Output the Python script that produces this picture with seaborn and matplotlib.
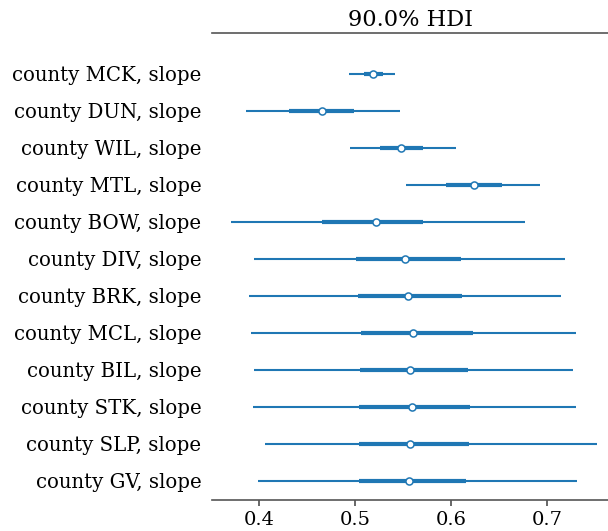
import numpy as np
import pandas as pd
import matplotlib
matplotlib.use("Agg")
import matplotlib.pyplot as plt
import seaborn as sns

# County slope posteriors: 90% HDI bounds, interquartile bounds and medians
counties = ["MCK", "DUN", "WIL", "MTL", "BOW", "DIV",
            "BRK", "MCL", "BIL", "STK", "SLP", "GV"]
hdi_low = [0.4935, 0.3858, 0.4948, 0.5531, 0.3702, 0.3948,
           0.3890, 0.3910, 0.3948, 0.3934, 0.4063, 0.3983]
hdi_high = [0.5417, 0.5466, 0.6046, 0.6921, 0.6764, 0.7188,
            0.7143, 0.7302, 0.7271, 0.7296, 0.7517, 0.7307]
q_low = [0.5094, 0.4313, 0.5260, 0.5948, 0.4656, 0.5010,
         0.5028, 0.5059, 0.5052, 0.5042, 0.5035, 0.5042]
q_high = [0.5290, 0.4990, 0.5702, 0.6528, 0.5702, 0.6098,
          0.6108, 0.6223, 0.6171, 0.6198, 0.6181, 0.6150]
medians = [0.5188, 0.4650, 0.5479, 0.6236, 0.5212, 0.5518,
           0.5546, 0.5604, 0.5570, 0.5590, 0.5567, 0.5563]

labels = [f"county {c}, slope" for c in counties]
n = len(counties)
ypos = np.arange(n)[::-1]  # first county at the top

sns.set_theme(style="ticks")
plt.rcParams["font.family"] = ["DejaVu Serif"]
plt.rcParams["text.color"] = "black"
plt.rcParams["xtick.color"] = "black"
plt.rcParams["ytick.color"] = "black"

blue = "#1f77b4"

def segments(lo, hi):
    rows = []
    for i in range(n):
        rows.append({"county": counties[i], "x": lo[i], "y": ypos[i]})
        rows.append({"county": counties[i], "x": hi[i], "y": ypos[i]})
    return pd.DataFrame(rows)

thin = segments(hdi_low, hdi_high)
thick = segments(q_low, q_high)
mid = pd.DataFrame({"county": counties, "x": medians, "y": ypos})

fig = plt.figure(figsize=(6.08, 5.31), dpi=100)
ax = fig.add_axes([0.3487, 0.0584, 0.6513, 0.8795])

sns.lineplot(data=thin, x="x", y="y", units="county", estimator=None,
             sort=False, color=blue, linewidth=1.5, ax=ax, legend=False,
             solid_capstyle="butt")
sns.lineplot(data=thick, x="x", y="y", units="county", estimator=None,
             sort=False, color=blue, linewidth=3.0, ax=ax, legend=False,
             solid_capstyle="butt")
sns.scatterplot(data=mid, x="x", y="y", color="white", edgecolor=blue,
                linewidth=1.1, s=26, zorder=5, ax=ax, legend=False)

ax.set_xlim(0.3507, 0.7632)
ax.set_ylim(-0.514, n - 1 + 1.108)
ax.set_xticks([0.4, 0.5, 0.6, 0.7])
ax.set_xticklabels(["0.4", "0.5", "0.6", "0.7"])
ax.set_yticks(ypos)
ax.set_yticklabels(labels)
ax.set_xlabel("")
ax.set_ylabel("")
ax.tick_params(axis="x", labelsize=14, length=4, color="#555555",
               labelcolor="black", pad=4)
ax.tick_params(axis="y", labelsize=14.2, length=0, labelcolor="black", pad=7.5)

for side in ("left", "right"):
    ax.spines[side].set_visible(False)
for side in ("top", "bottom"):
    ax.spines[side].set_visible(True)
    ax.spines[side].set_color("#555555")
    ax.spines[side].set_linewidth(1.2)

ax.set_title("90.0% HDI", fontsize=16.2, pad=5, color="black")

fig.savefig("out.png", dpi=100)
